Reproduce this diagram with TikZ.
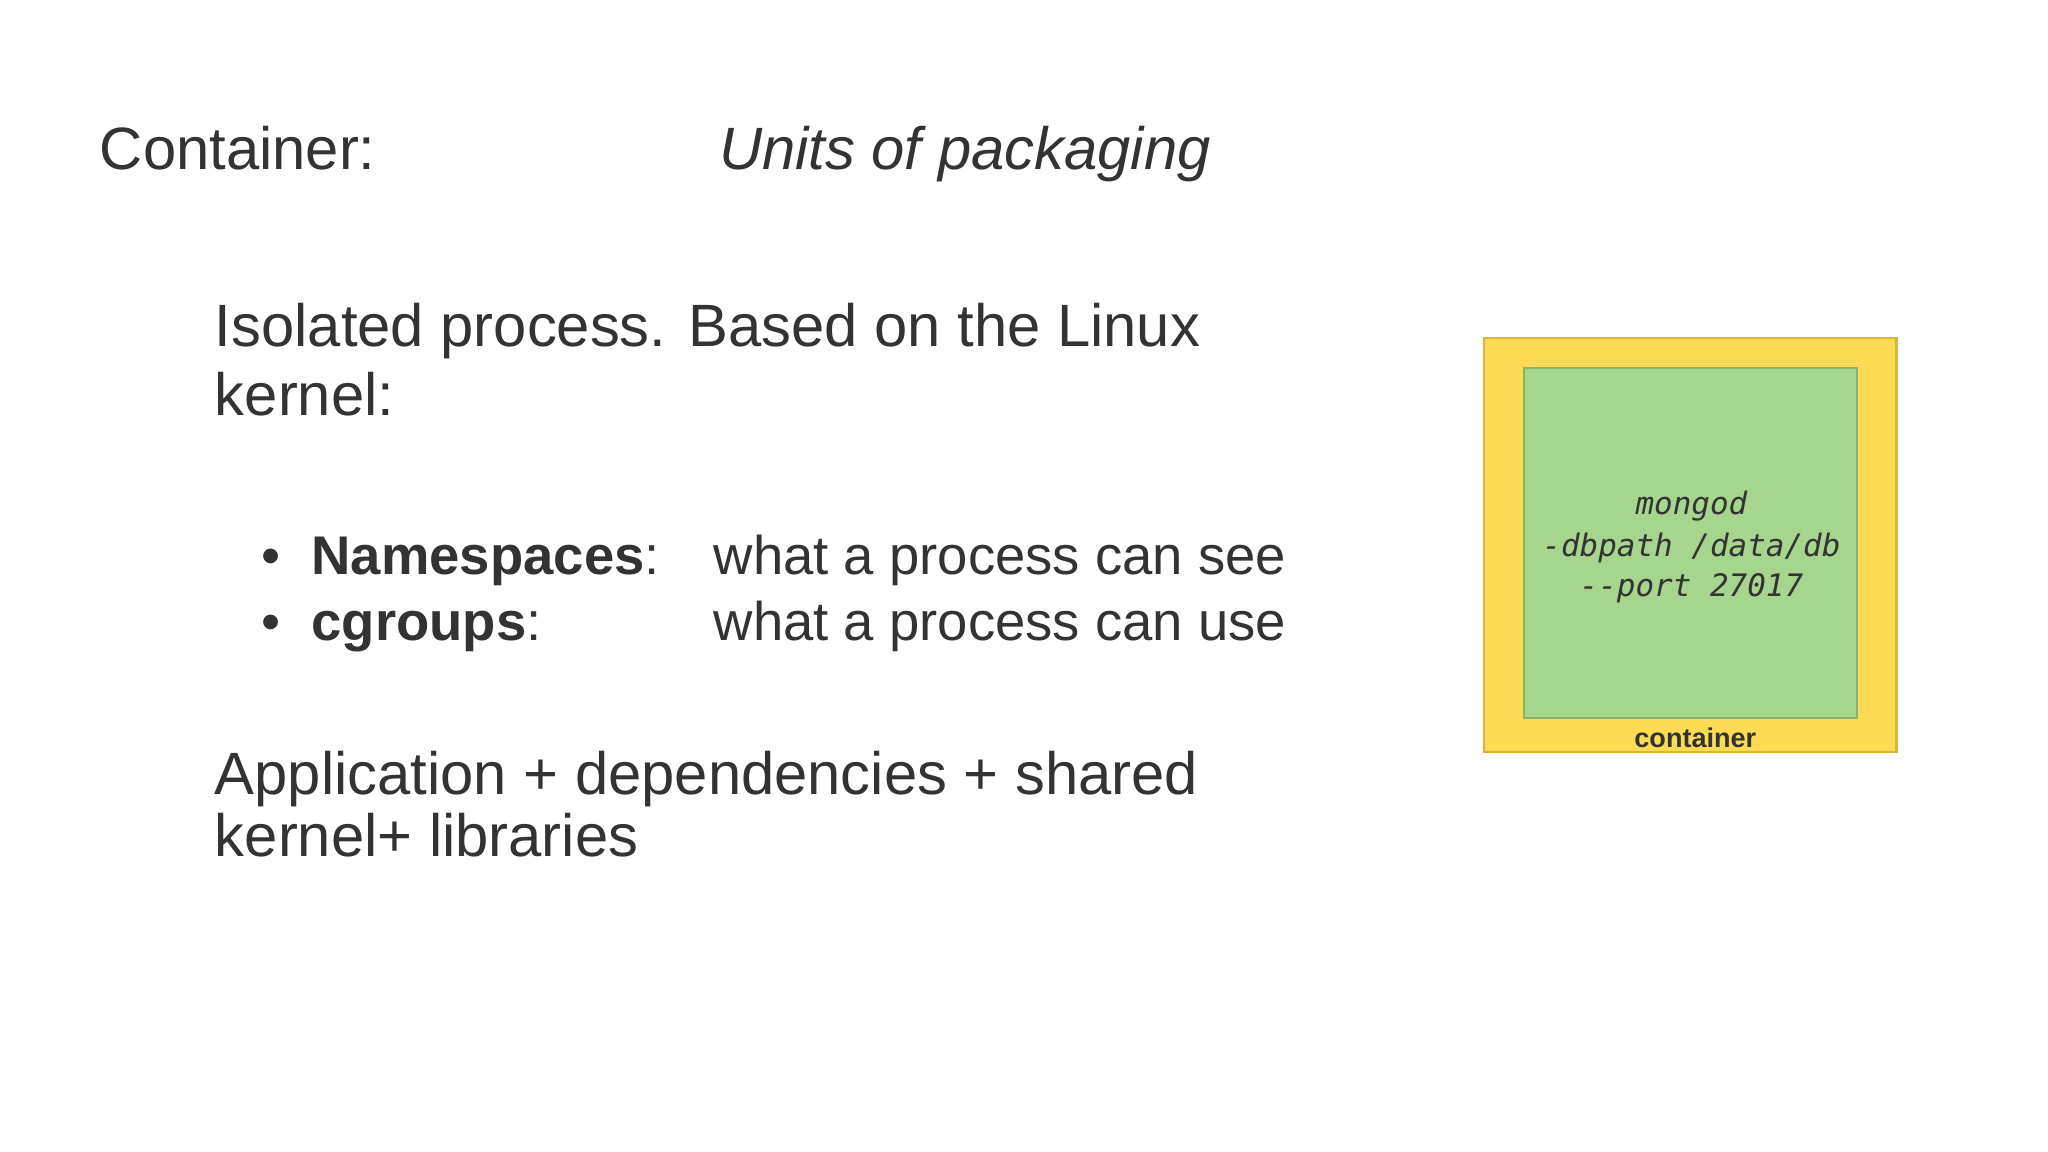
\documentclass[tikz,border=0pt]{standalone}
\usepackage{fontspec}
\setmainfont{Liberation Sans}
\newfontfamily\monof{DejaVu Sans Mono}
\definecolor{txt}{HTML}{333333}
\definecolor{yel}{HTML}{FDDB52}
\definecolor{yelb}{HTML}{D9B53A}
\definecolor{grn}{HTML}{A6D58D}
\definecolor{grnb}{HTML}{86B46C}
\begin{document}
\begin{tikzpicture}[x=0.01306cm,y=-0.01306cm,
  big/.style={anchor=base west,inner sep=0,text=txt,font=\fontsize{17}{20}\selectfont},
  mid/.style={anchor=base west,inner sep=0,text=txt,font=\fontsize{15.5}{18}\selectfont},
  code/.style={anchor=base,inner sep=0,text=txt,font=\monof\itshape\fontsize{8.8}{10}\selectfont}]
\useasboundingbox (0,0) rectangle (1568,882);
\fill[white] (0,0) rectangle (1568,882);
\node[big] (t1) at (76,130) {Container:};
\node[big,font=\fontsize{17}{20}\selectfont\itshape] (t2) at (550,130) {Units of packaging};
\node[big] (i1) at (164,265) {Isolated process. Based on the Linux};
\node[big] (i2) at (164,318) {kernel:};
\node[mid] (b1) at (200,440) {\textbullet};
\node[mid] (n1) at (238,440) {\textbf{Namespaces}:};
\node[mid] (d1) at (546,440) {what a process can see};
\node[mid] (b2) at (200,490) {\textbullet};
\node[mid] (n2) at (238,490) {\textbf{cgroups}:};
\node[mid] (d2) at (546,490) {what a process can use};
\node[big] (a1) at (164,608) {Application + dependencies + shared};
\node[big] (a2) at (164,656) {kernel+ libraries};
\draw[yelb,fill=yel,line width=0.6pt] (1136,259) rectangle (1452,576);
\draw[grnb,fill=grn,line width=0.6pt] (1167,282) rectangle (1422,550);
\node[code] (c1) at (1295,394) {mongod};
\node[code] (c2) at (1295,426) {-dbpath /data/db};
\node[code] (c3) at (1295,457) {--port 27017};
\node[anchor=base,inner sep=0,text=txt,font=\bfseries\fontsize{7.7}{9}\selectfont] (cl) at (1298,572) {container};
\end{tikzpicture}
\end{document}
